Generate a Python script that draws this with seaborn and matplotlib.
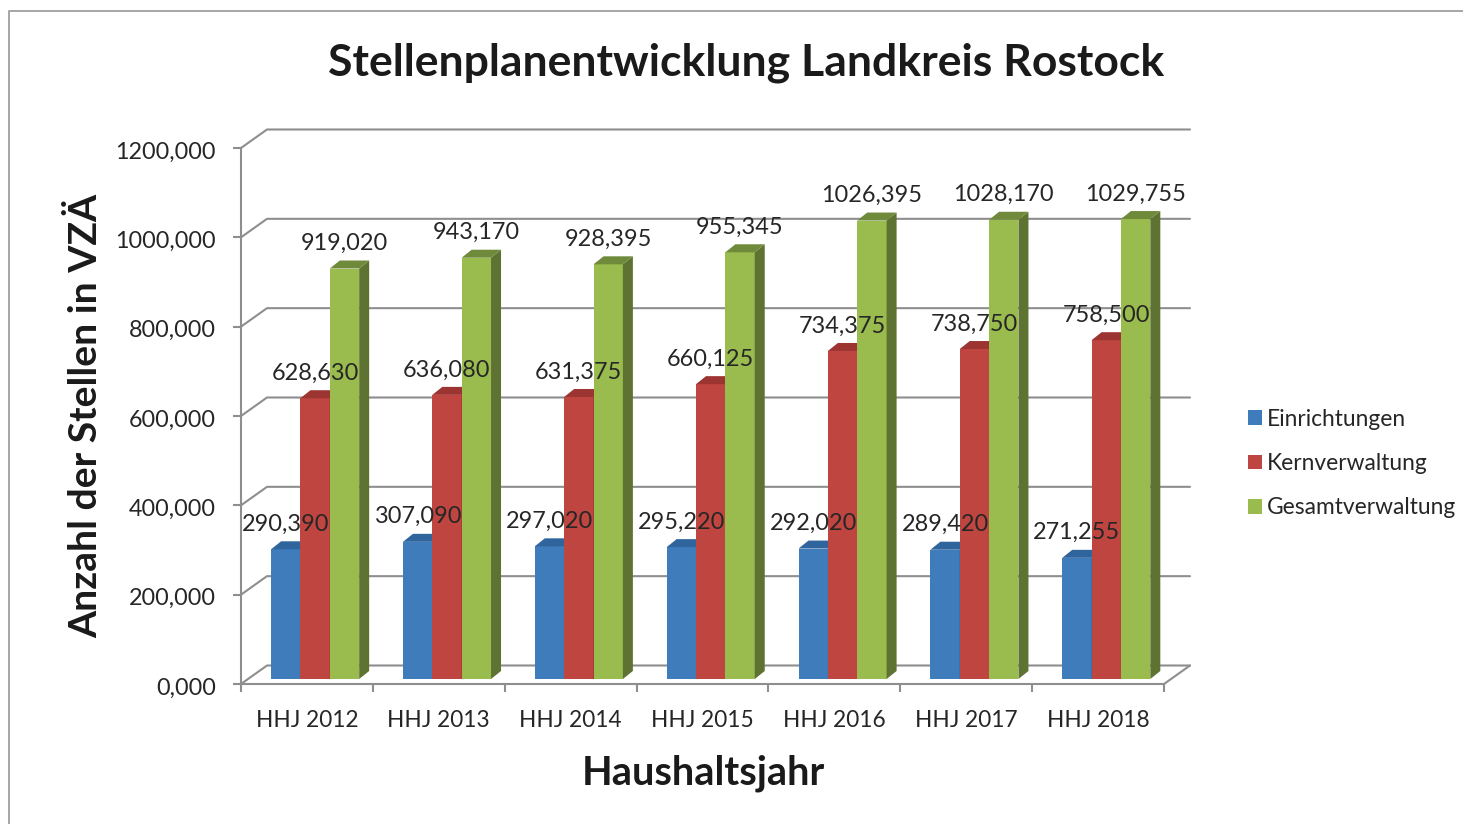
import matplotlib
matplotlib.use('Agg')
import matplotlib.pyplot as plt
from matplotlib.lines import Line2D
from matplotlib.transforms import ScaledTranslation
import pandas as pd
import seaborn as sns

years = ['HHJ 2012', 'HHJ 2013', 'HHJ 2014', 'HHJ 2015', 'HHJ 2016', 'HHJ 2017', 'HHJ 2018']
einrichtungen = [290.390, 307.090, 297.020, 295.220, 292.020, 289.420, 271.255]
kernverwaltung = [628.630, 636.080, 631.375, 660.125, 734.375, 738.750, 758.500]
gesamtverwaltung = [919.020, 943.170, 928.395, 955.345, 1026.395, 1028.170, 1029.755]
series_names = ['Einrichtungen', 'Kernverwaltung', 'Gesamtverwaltung']
y_ticks = [0, 200, 400, 600, 800, 1000, 1200]

face_colors = ['#3E7CBC', '#BE4540', '#9ABB4E']
side_colors = ['#2A5C8E', '#8F2F2C', '#5E7232']
top_colors = ['#2F659C', '#9C3431', '#6F8A3A']
GRID = '#8E8E8E'
TEXT = '#262626'

W, H = 1463, 824
LEFT, RIGHT, TOP, BOTTOM = 241, 1164, 148, 684
PX_X = 7 / (RIGHT - LEFT)      # data units per pixel
PX_Y = 1200 / (BOTTOM - TOP)

sns.set_theme(style='white')
plt.rcParams['font.family'] = ['Lato', 'DejaVu Sans']

df = pd.DataFrame({
    'year': years * 3,
    'value': einrichtungen + kernverwaltung + gesamtverwaltung,
    'series': [s for s in series_names for _ in years],
})

fig = plt.figure(figsize=(W / 100, H / 100), dpi=100)
ax = fig.add_axes([LEFT / W, 1 - BOTTOM / H, (RIGHT - LEFT) / W, (BOTTOM - TOP) / H])

sns.barplot(data=df, x='year', y='value', hue='series', palette=face_colors, saturation=1,
            width=0.668, gap=0, legend=False, ax=ax, zorder=3, linewidth=0)
ax.set_xlim(-0.5, 6.5)
ax.set_ylim(0, 1200)

# back wall and floor
wall_x = 26 * PX_X
wall_y = 18.5 * PX_Y
for t in y_ticks:
    ax.plot([-0.5, -0.5 + wall_x, 6.5 + wall_x], [t, t + wall_y, t + wall_y], color=GRID, lw=1.5,
            clip_on=False, zorder=1)
ax.plot([6.5, 6.5 + wall_x], [0, wall_y], color=GRID, lw=1.5, clip_on=False, zorder=1)

# fake 3D: shift the bars into the room, add side and top faces
shift_x = 8.2 * PX_X
shift_y = 5 * PX_Y
depth_x = 10 * PX_X
depth_y = 8 * PX_Y
for i, bars in enumerate(ax.containers):
    for bar, value in zip(bars, [einrichtungen, kernverwaltung, gesamtverwaltung][i]):
        bar.set_x(bar.get_x() + shift_x)
        bar.set_y(shift_y)
        bar.set_height(value)
        bar.set_clip_on(False)
        bar.set_zorder(3 + i)
        x0 = bar.get_x()
        x1 = x0 + bar.get_width()
        y1 = value + shift_y
        ax.fill([x1, x1 + depth_x, x1 + depth_x, x1],
                [shift_y, shift_y + depth_y, y1 + depth_y, y1],
                color=side_colors[i], lw=0, clip_on=False, zorder=3 + i)
        ax.fill([x0, x0 + depth_x, x1 + depth_x, x1],
                [y1, y1 + depth_y, y1 + depth_y, y1],
                color=top_colors[i], lw=0, clip_on=False, zorder=3 + i)
        ax.annotate(f'{value:.3f}'.replace('.', ','), (x0 + bar.get_width() / 2, y1),
                    xytext=(0, 18), textcoords='offset points', ha='center', va='center',
                    fontsize=16.9, color=TEXT, zorder=10, annotation_clip=False)

# axes
sns.despine(ax=ax, top=True, right=True)
for side in ['left', 'bottom']:
    ax.spines[side].set_color(GRID)
    ax.spines[side].set_linewidth(1.5)
ax.set_yticks(y_ticks)
ax.set_yticklabels([f'{t},000' for t in y_ticks])
ax.set_xticks([i - 0.5 for i in range(8)], minor=True)
ax.tick_params(axis='x', which='minor', bottom=True, length=6, width=1.5, color=GRID)
ax.tick_params(axis='x', which='major', bottom=False, length=0, pad=18.5, labelsize=16.3, labelcolor=TEXT)
ax.tick_params(axis='y', left=True, length=6, width=1.5, color=GRID, pad=12, labelsize=16.8, labelcolor=TEXT)
ax.set_xlabel('')
ax.set_ylabel('')
nudge = ScaledTranslation(0, -2 / 100, fig.dpi_scale_trans)
for lab in ax.get_yticklabels():
    lab.set_transform(lab.get_transform() + nudge)

fig.text(746 / W, 1 - 63 / H, 'Stellenplanentwicklung Landkreis Rostock', ha='center', va='center',
         fontsize=32, fontweight='bold', color='#1a1a1a')
fig.text(703 / W, 1 - 773 / H, 'Haushaltsjahr', ha='center', va='center',
         fontsize=28.7, fontweight='bold', color='#1a1a1a')
fig.text(86 / W, 1 - 416 / H, 'Anzahl der Stellen in VZÄ', ha='center', va='center', rotation=90,
         fontsize=28.2, fontweight='bold', color='#1a1a1a')

handles = [c[0] for c in ax.containers]
fig.legend(handles, series_names, loc='center left', bbox_to_anchor=(1248 / W, 1 - 463.5 / H),
           frameon=False, fontsize=16.4, labelcolor=TEXT, handlelength=0.62, handleheight=0.62,
           handletextpad=0.2, labelspacing=1.03, borderpad=0, borderaxespad=0)

# outer chart frame
fig.add_artist(Line2D([9 / W, 9 / W, 1], [0, 1 - 11 / H, 1 - 11 / H], color='#A6A6A6', lw=1.4))

fig.savefig('out.png', dpi=100)
